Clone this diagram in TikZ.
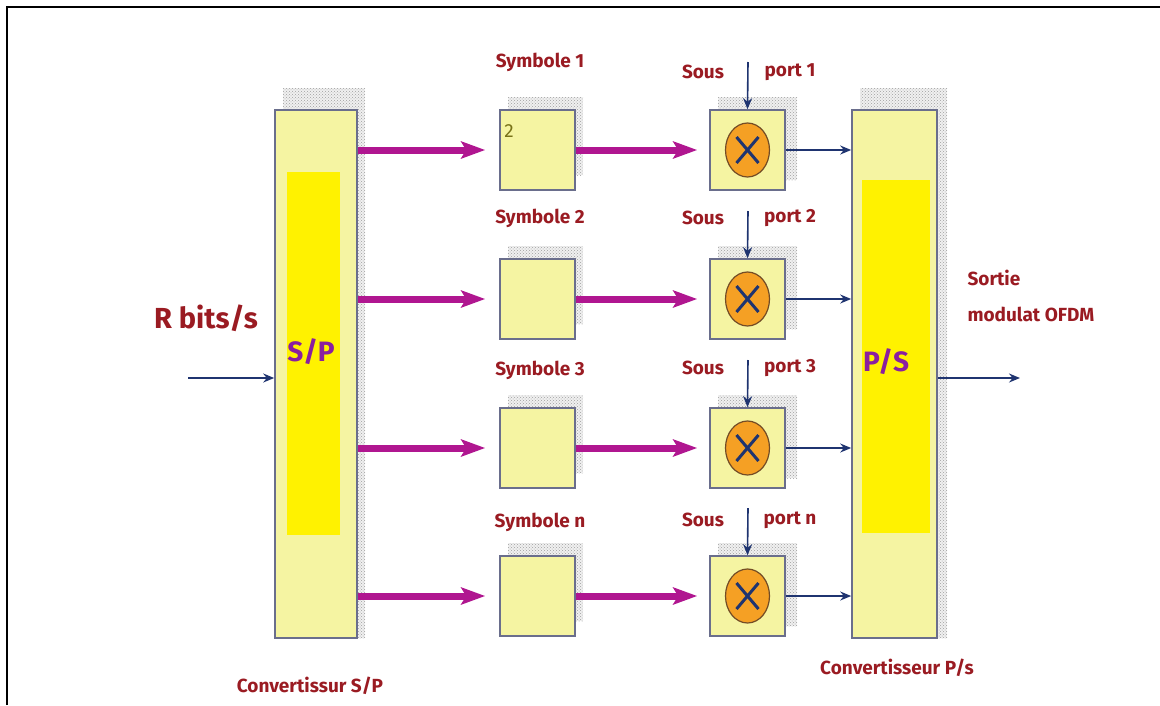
\documentclass[tikz,border=0pt]{standalone}
\usepackage{fontspec}
\setmainfont{Fira Sans}
\usepackage{tikz}
\usetikzlibrary{arrows.meta,patterns}
\definecolor{boxfill}{HTML}{F5F4A2}
\definecolor{boxline}{HTML}{6A6E8C}
\definecolor{labred}{HTML}{9A1B22}
\definecolor{purp}{HTML}{8A1FA0}
\definecolor{navy}{HTML}{1F3470}
\definecolor{fatcol}{HTML}{B01690}
\definecolor{mulcol}{HTML}{F5A024}

\begin{document}
\begin{tikzpicture}[x=1pt,y=-1pt,
box/.style={draw=boxline,fill=boxfill,line width=1.6pt,inner sep=0pt},
core/.style={fill=yellow,inner sep=0pt},
dots/.style={fill=gray!12,postaction={pattern=crosshatch dots,pattern color=gray!75}},
fatarrow/.style={-{Stealth[length=24pt,width=17pt,inset=5pt]},line width=7pt,draw=fatcol},
thinarrow/.style={-{Stealth[length=11pt,width=9pt]},line width=1.6pt,draw=navy},
lbl/.style={text=labred,font=\bfseries\fontsize{19}{21}\selectfont},
big/.style={text=purp,font=\bfseries\fontsize{28}{30}\selectfont}]
\useasboundingbox (0,0) rectangle (1160,705);
\draw[line width=2pt] (7,705) -- (7,7) -- (1160,7);

\fill[dots] (283,88) rectangle (365,638);
\node[box,minimum width=82pt,minimum height=528pt] (sp) at (316,374) {};
\node[core,minimum width=53pt,minimum height=363pt] (spcore) at (313.5,353.5) {};
\node[big] (sptxt) at (311,352) {S/P};

\fill[dots] (860,88) rectangle (947,638);
\node[box,minimum width=85pt,minimum height=528pt] (ps) at (894.5,374) {};
\node[core,minimum width=68pt,minimum height=353pt] (pscore) at (896,356.5) {};
\node[big] (pstxt) at (886,362) {P/S};

\foreach \i/\y/\n/\sy/\py in {1/150/1/62/72,2/299/2/218/218,3/448/3/370/368,4/596/n/522/520}{
  \fill[dots] (508,\y-53) rectangle (583,\y+25);
  \node[box,minimum width=75pt,minimum height=80pt] (sym\i) at (537.5,\y) {};
  \fill[dots] (718,\y-53) rectangle (797,\y+30);
  \node[box,minimum width=75pt,minimum height=80pt] (mul\i) at (747.5,\y) {};
  \draw[fill=mulcol,draw=brown!60!black,line width=1.2pt] (mul\i.center) ellipse [x radius=22,y radius=27];
  \draw[navy,line width=3pt] ([shift={(-11,-13)}]mul\i.center) -- ([shift={(11,13)}]mul\i.center);
  \draw[navy,line width=3pt] ([shift={(-11,13)}]mul\i.center) -- ([shift={(11,-13)}]mul\i.center);
  \node[lbl] (symlbl\i) at (540,\sy) {Symbole \n};
  \node[lbl] (souslbl\i) at (703,\py) {Sous};
  \node[lbl] (portlbl\i) at (790,\py) {port \n};
  \coordinate (top\i) at (748,\y-88);
  \draw[thinarrow] (top\i) -- (mul\i.north);
  \draw[fatarrow] (sp.east |- sym\i.west) -- ([xshift=-14pt]sym\i.west);
  \draw[fatarrow] (sym\i.east) -- ([xshift=-12pt]mul\i.west);
  \draw[thinarrow] (mul\i.east) -- (ps.west |- mul\i.east);
}
\node[text=olive!80!black,font=\fontsize{19}{19}\selectfont] (two) at (509,131) {2};

\coordinate (in) at (188,378);
\coordinate (out) at (1020,378);
\draw[thinarrow] (in) -- (sp.west |- in);
\draw[thinarrow] (ps.east |- out) -- (out);

\node[lbl,font=\bfseries\fontsize{29}{31}\selectfont] (rate) at (206,318) {R bits/s};
\node[lbl,anchor=west] (sortie) at (964,278) {Sortie};
\node[lbl,anchor=west] (modul) at (964,314) {modulat OFDM};
\node[lbl] (cvsp) at (310,686) {Convertissur S/P};
\node[lbl] (cvps) at (897,668) {Convertisseur P/s};
\end{tikzpicture}
\end{document}
